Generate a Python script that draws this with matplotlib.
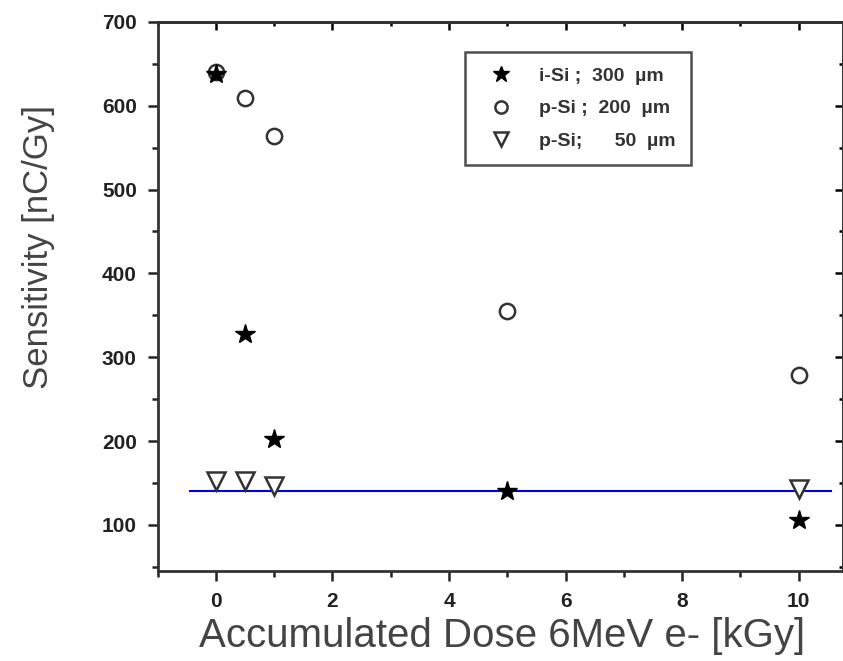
import matplotlib.pyplot as plt
from matplotlib.ticker import MultipleLocator

# data
dose_isi300 = [0, 0.5, 1, 5, 10]
sens_isi300 = [638, 328, 203, 140, 106]

dose_psi200 = [0, 0.5, 1, 5, 10]
sens_psi200 = [640, 609, 564, 355, 279]

dose_psi50 = [0, 0.5, 1, 10]
sens_psi50 = [152, 152, 146, 143]

# horizontal reference line
fit_x = [-0.45, 10.55]
fit_y = [140, 140]

labels = ["i-Si ;  300  \u00b5m", "p-Si ;  200  \u00b5m", "p-Si;      50  \u00b5m"]

plt.rcParams['font.family'] = ['Liberation Sans', 'DejaVu Sans']

fig = plt.figure(figsize=(8.43, 6.61), dpi=100)
ax = fig.add_axes([0.187, 0.136, 0.813, 0.831])

ax.plot(fit_x, fit_y, color="#0000ee", lw=1.5, zorder=1)
ax.plot(dose_psi200, sens_psi200, linestyle="none", marker="o", ms=11,
        mfc="white", mec="#333333", mew=1.8, label=labels[1], zorder=2)
ax.plot(dose_psi50, sens_psi50, linestyle="none", marker="v", ms=13,
        mfc="white", mec="#333333", mew=1.8, label=labels[2], zorder=2)
ax.plot(dose_isi300, sens_isi300, linestyle="none", marker="*", ms=15,
        color="black", label=labels[0], zorder=3)

ax.set_xlim(-1, 10.76)
ax.set_ylim(45, 700)

ax.xaxis.set_major_locator(MultipleLocator(2))
ax.xaxis.set_minor_locator(MultipleLocator(1))
ax.yaxis.set_major_locator(MultipleLocator(100))
ax.yaxis.set_minor_locator(MultipleLocator(50))

ax.tick_params(which="both", direction="out", top=False, right=False,
               width=1.8, labelsize=15, colors="#222222", pad=8)
ax.tick_params(which="major", length=7)
ax.tick_params(which="minor", length=4)
for lab in ax.get_xticklabels() + ax.get_yticklabels():
    lab.set_fontweight("bold")

# mirrored inward ticks on top and right
tx = ax.secondary_xaxis("top")
tx.xaxis.set_major_locator(MultipleLocator(2))
tx.xaxis.set_minor_locator(MultipleLocator(1))
tx.tick_params(which="both", direction="in", labeltop=False, width=1.8)
tx.tick_params(which="major", length=6)
tx.tick_params(which="minor", length=3)
ty = ax.secondary_yaxis("right")
ty.yaxis.set_major_locator(MultipleLocator(100))
ty.yaxis.set_minor_locator(MultipleLocator(50))
ty.tick_params(which="both", direction="in", labelright=False, width=1.8)
ty.tick_params(which="major", length=6)
ty.tick_params(which="minor", length=3)
for sec in (tx, ty):
    for s in sec.spines.values():
        s.set_linewidth(2)
        s.set_color("#333333")

for s in ax.spines.values():
    s.set_linewidth(2)
    s.set_color("#333333")

ax.set_xlabel("Accumulated Dose 6MeV e- [kGy]", fontsize=29, color="#444444")
ax.set_ylabel("Sensitivity [nC/Gy]", fontsize=25, color="#444444")
ax.xaxis.set_label_coords(0.502, -0.083)
ax.yaxis.set_label_coords(-0.15, 0.59)

handles, labs = ax.get_legend_handles_labels()
order = [2, 0, 1]
leg = ax.legend([handles[i] for i in order], [labs[i] for i in order],
                loc="upper left", bbox_to_anchor=(0.4486, 0.945),
                borderaxespad=0, frameon=True, fancybox=False,
                edgecolor="#222222", fontsize=14, handlelength=2.1,
                handletextpad=0.9, borderpad=0.8, labelspacing=0.75,
                markerscale=0.8)
leg.get_frame().set_linewidth(1.8)
for t in leg.get_texts():
    t.set_fontweight("bold")
    t.set_color("#333333")

fig.savefig("out.png", dpi=100)
